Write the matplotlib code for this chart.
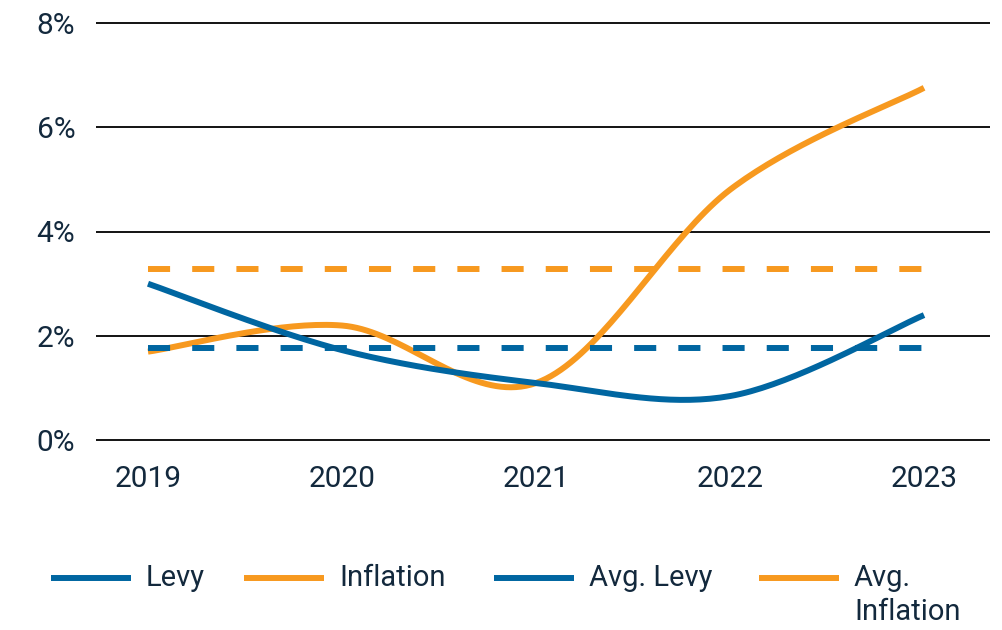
import numpy as np
import matplotlib
matplotlib.use("Agg")
import matplotlib.pyplot as plt
from matplotlib.lines import Line2D
from matplotlib.ticker import FuncFormatter

years = ["2019", "2020", "2021", "2022", "2023"]
levy = [3.0, 1.73, 1.1, 0.85, 2.4]
inflation = [1.7, 2.2, 1.1, 4.8, 6.75]
avg_levy = 1.77
avg_inflation = 3.29
y_ticks = [0, 2, 4, 6, 8]
legend_labels = ["Levy", "Inflation", "Avg. Levy", "Avg.\nInflation"]

BLUE = "#0066a1"
ORANGE = "#f7991f"
TEXT = "#13293d"
FONT = ["Roboto", "DejaVu Sans"]


def smooth(y, n=40):
    # Catmull-Rom style smoothing (like office "smoothed line")
    x = np.arange(len(y), dtype=float)
    y = np.asarray(y, dtype=float)
    px = np.concatenate([[x[0]], x, [x[-1]]])
    py = np.concatenate([[y[0]], y, [y[-1]]])
    xs, ys = [], []
    t = np.linspace(0, 1, n)
    for i in range(1, len(px) - 2):
        p0 = np.array([px[i], py[i]])
        p3 = np.array([px[i + 1], py[i + 1]])
        c1 = p0 + (np.array([px[i + 1], py[i + 1]]) - np.array([px[i - 1], py[i - 1]])) / 6
        c2 = p3 - (np.array([px[i + 2], py[i + 2]]) - np.array([px[i], py[i]])) / 6
        b = ((1 - t) ** 3)[:, None] * p0 + (3 * (1 - t) ** 2 * t)[:, None] * c1 \
            + (3 * (1 - t) * t ** 2)[:, None] * c2 + (t ** 3)[:, None] * p3
        xs.append(b[:, 0])
        ys.append(b[:, 1])
    return np.concatenate(xs), np.concatenate(ys)


W, H = 1003, 630
fig = plt.figure(figsize=(W / 100, H / 100), dpi=100)
ax = fig.add_axes([96 / W, 1 - 441 / H, 894 / W, 419 / H])

lw = 4.3
x = np.arange(len(years))

sx, sy = smooth(inflation)
ax.plot(sx, sy, color=ORANGE, lw=lw, solid_capstyle="butt", zorder=3)
sx, sy = smooth(levy)
ax.plot(sx, sy, color=BLUE, lw=lw, solid_capstyle="butt", zorder=4)

ax.plot([x[0], x[-1]], [avg_inflation] * 2, color=ORANGE, lw=lw,
        dashes=(3.7, 3.7), dash_capstyle="butt", zorder=5)
ax.plot([x[0], x[-1]], [avg_levy] * 2, color=BLUE, lw=lw,
        dashes=(3.7, 3.7), dash_capstyle="butt", zorder=5)

ax.set_xlim(-0.268, 4.34)
ax.set_ylim(-0.01, 8.01)
ax.set_xticks(x)
ax.set_xticklabels(years)
ax.set_yticks(y_ticks)
ax.yaxis.set_major_formatter(FuncFormatter(lambda v, p: f"{v:.0f}%"))

for s in ax.spines.values():
    s.set_visible(False)
ax.grid(axis="y", color="black", lw=1.3, zorder=1)
ax.grid(axis="x", visible=False)
ax.tick_params(length=0, labelsize=21.5, labelcolor=TEXT)
ax.tick_params(axis="y", pad=15)
ax.tick_params(axis="x", pad=17)
for lab in ax.get_xticklabels() + ax.get_yticklabels():
    lab.set_fontfamily(FONT)

# legend drawn by hand so the wrapped last label sits like the original
leg_colors = [BLUE, ORANGE, BLUE, ORANGE]
leg_x = [51, 244, 494, 759]
leg_y = 578
for lx, col, lab in zip(leg_x, leg_colors, legend_labels):
    fig.add_artist(Line2D([lx / W, (lx + 80) / W], [1 - leg_y / H] * 2,
                          color=col, lw=lw, solid_capstyle="butt"))
    fig.text((lx + 95) / W, 1 - 564 / H, lab, ha="left", va="top", fontsize=21,
             color=TEXT, family=FONT, linespacing=1.25)

fig.savefig("out.png", dpi=100)
